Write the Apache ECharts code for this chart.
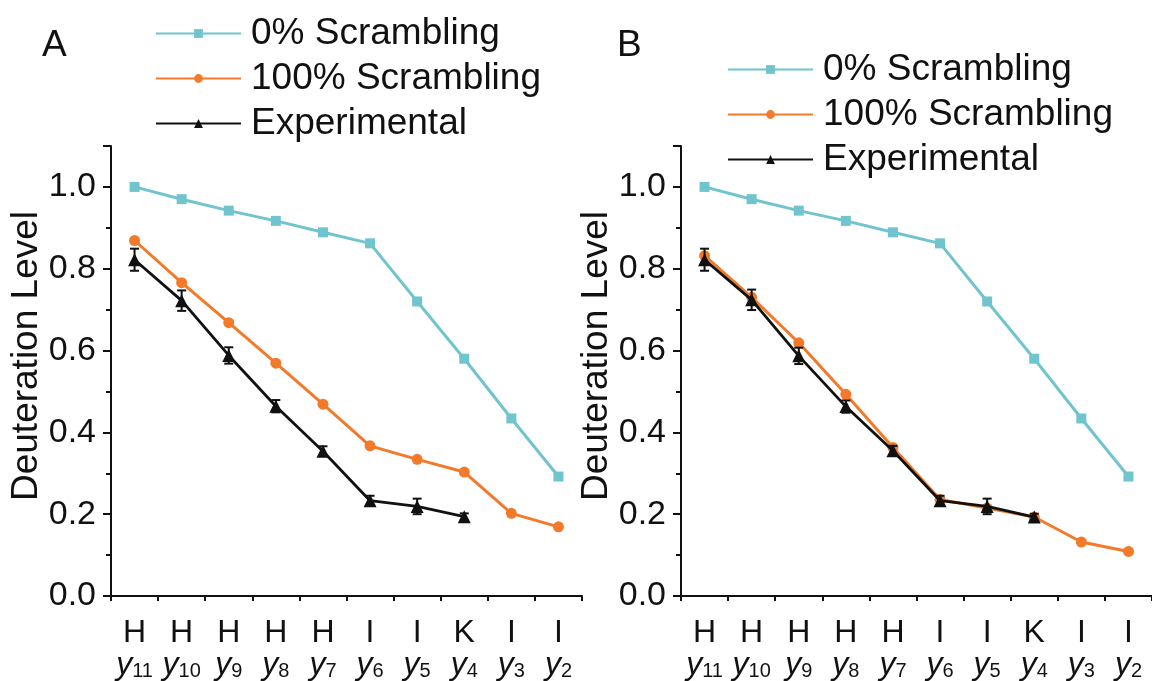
<!DOCTYPE html>
<html>
<head>
<meta charset="utf-8">
<script src="https://cdn.jsdelivr.net/npm/echarts@6/dist/echarts.min.js"></script>
<style>
html,body{margin:0;padding:0;background:#fff;}
#c{width:1152px;height:681px;}
</style>
</head>
<body>
<div id="c"></div>
<script>
// ---- data ----
const residues = ['H','H','H','H','H','I','I','K','I','I'];
const ions = ['11','10','9','8','7','6','5','4','3','2'];
const yTicks = [0, 0.2, 0.4, 0.6, 0.8, 1.0];

const scr0A   = [1.000, 0.970, 0.942, 0.917, 0.889, 0.862, 0.720, 0.580, 0.434, 0.292];
const scr100A = [0.869, 0.766, 0.668, 0.569, 0.469, 0.367, 0.334, 0.303, 0.202, 0.169];
const expA    = [0.822, 0.722, 0.588, 0.464, 0.354, 0.233, 0.219, 0.194];
const expErrA = [0.027, 0.025, 0.020, 0.015, 0.012, 0.012, 0.019, 0.008];

const scr0B   = [1.000, 0.970, 0.942, 0.917, 0.889, 0.862, 0.720, 0.580, 0.434, 0.292];
const scr100B = [0.832, 0.730, 0.619, 0.493, 0.363, 0.236, 0.215, 0.193, 0.132, 0.109];
const expB    = [0.822, 0.724, 0.587, 0.463, 0.355, 0.233, 0.219, 0.193];
const expErrB = [0.027, 0.025, 0.020, 0.015, 0.012, 0.012, 0.019, 0.008];

const seriesNames = ['0% Scrambling', '100% Scrambling', 'Experimental'];

// ---- styling ----
const FONT = 'Arial, "Liberation Sans", sans-serif';
const CYAN = '#6fc4cd';
const ORANGE = '#f27a2a';
const BLACK = '#111111';

function errData(vals, errs) {
  return vals.map((v, i) => [i, v - errs[i], v + errs[i]]);
}

function errRender(params, api) {
  const x = api.value(0);
  const lo = api.coord([x, api.value(1)]);
  const hi = api.coord([x, api.value(2)]);
  const w = 4.5;
  const st = { stroke: BLACK, lineWidth: 2 };
  return {
    type: 'group',
    children: [
      { type: 'line', shape: { x1: lo[0], y1: lo[1], x2: hi[0], y2: hi[1] }, style: st },
      { type: 'line', shape: { x1: lo[0] - w, y1: lo[1], x2: lo[0] + w, y2: lo[1] }, style: st },
      { type: 'line', shape: { x1: hi[0] - w, y1: hi[1], x2: hi[0] + w, y2: hi[1] }, style: st }
    ]
  };
}

const grids = [
  { left: 111, width: 471, top: 146, bottom: 85 },
  { left: 681, width: 471, top: 146, bottom: 85 }
];

const xAxes = [];
const yAxes = [];
[0, 1].forEach(g => {
  xAxes.push({
    type: 'category', gridIndex: g, data: ions, boundaryGap: true,
    axisLine: { lineStyle: { color: BLACK, width: 2 } },
    axisTick: { alignWithLabel: true, length: 8, lineStyle: { color: BLACK, width: 2 } },
    axisLabel: {
      interval: 0, margin: 21, color: BLACK, fontFamily: FONT,
      formatter: (v, i) => '{h|' + residues[i] + '}\n{y|y}{s|' + v + '}',
      rich: {
        h: { fontSize: 32, lineHeight: 32, fontFamily: FONT, color: BLACK },
        y: { fontSize: 32, lineHeight: 32, fontStyle: 'italic', fontFamily: FONT, color: BLACK },
        s: { fontSize: 20, lineHeight: 10, verticalAlign: 'bottom', fontFamily: FONT, color: BLACK }
      }
    },
    splitLine: { show: false }
  });
  xAxes.push({
    type: 'category', gridIndex: g, data: ions, boundaryGap: true, position: 'bottom',
    axisLine: { show: false },
    axisTick: { show: true, alignWithLabel: false, length: 5, lineStyle: { color: BLACK, width: 2 } },
    axisLabel: { show: false },
    splitLine: { show: false }
  });
  yAxes.push({
    type: 'value', gridIndex: g, min: 0, max: 1.1, interval: 0.2,
    name: 'Deuteration Level', nameLocation: 'middle', nameGap: 65,
    nameTextStyle: { fontSize: 37, fontFamily: FONT, color: BLACK, padding: [0, 0, 0, 30] },
    axisLine: { show: true, lineStyle: { color: BLACK, width: 2 } },
    axisTick: { show: true, length: 8, lineStyle: { color: BLACK, width: 2 } },
    axisLabel: {
      margin: 15, fontSize: 34, fontFamily: FONT, color: BLACK,
      formatter: v => (yTicks.some(t => Math.abs(t - v) < 1e-6) ? v.toFixed(1) : '')
    },
    splitLine: { show: false }
  });
  yAxes.push({
    type: 'value', gridIndex: g, min: 0, max: 1.1, interval: 0.1, position: 'left',
    axisLine: { show: false },
    axisTick: { show: true, length: 5, lineStyle: { color: BLACK, width: 2 } },
    axisLabel: { show: false },
    splitLine: { show: false }
  });
});

function panelSeries(g, s0, s100, ex, err) {
  const xi = g * 2, yi = g * 2;
  return [
    { name: seriesNames[0], type: 'line', xAxisIndex: xi, yAxisIndex: yi, data: s0,
      symbol: 'rect', symbolSize: 10, color: CYAN, lineStyle: { width: 3, color: CYAN },
      itemStyle: { color: CYAN }, z: 2 },
    { name: seriesNames[1], type: 'line', xAxisIndex: xi, yAxisIndex: yi, data: s100,
      symbol: 'circle', symbolSize: 11, color: ORANGE, lineStyle: { width: 3, color: ORANGE },
      itemStyle: { color: ORANGE }, z: 3 },
    { name: seriesNames[2], type: 'line', xAxisIndex: xi, yAxisIndex: yi, data: ex,
      symbol: 'triangle', symbolSize: 13, color: BLACK, lineStyle: { width: 2.8, color: BLACK },
      itemStyle: { color: BLACK }, z: 4 },
    { name: seriesNames[2], type: 'custom', xAxisIndex: xi, yAxisIndex: yi,
      data: errData(ex, err), renderItem: errRender, encode: { x: 0, y: [1, 2] }, z: 5 }
  ];
}

const legendBase = {
  orient: 'vertical', itemWidth: 85, itemHeight: 11, itemGap: 8,
  data: seriesNames,
  textStyle: { fontSize: 37, fontFamily: FONT, color: BLACK, lineHeight: 37, padding: [0, 0, 0, 5] }
};

const option = {
  backgroundColor: '#ffffff',
  animation: false,
  title: [
    { text: 'A', left: 37, top: 22, textStyle: { fontSize: 37, fontWeight: 'normal', fontFamily: FONT, color: BLACK } },
    { text: 'B', left: 612, top: 22, textStyle: { fontSize: 37, fontWeight: 'normal', fontFamily: FONT, color: BLACK } }
  ],
  legend: [
    Object.assign({}, legendBase, { left: 150, top: 10 }),
    Object.assign({}, legendBase, { left: 722, top: 46 })
  ],
  grid: grids,
  xAxis: xAxes,
  yAxis: yAxes,
  series: [].concat(
    panelSeries(0, scr0A, scr100A, expA, expErrA),
    panelSeries(1, scr0B, scr100B, expB, expErrB)
  )
};

const chart = echarts.init(document.getElementById('c'), null, { renderer: 'canvas' });
chart.setOption(option);
</script>
</body>
</html>
